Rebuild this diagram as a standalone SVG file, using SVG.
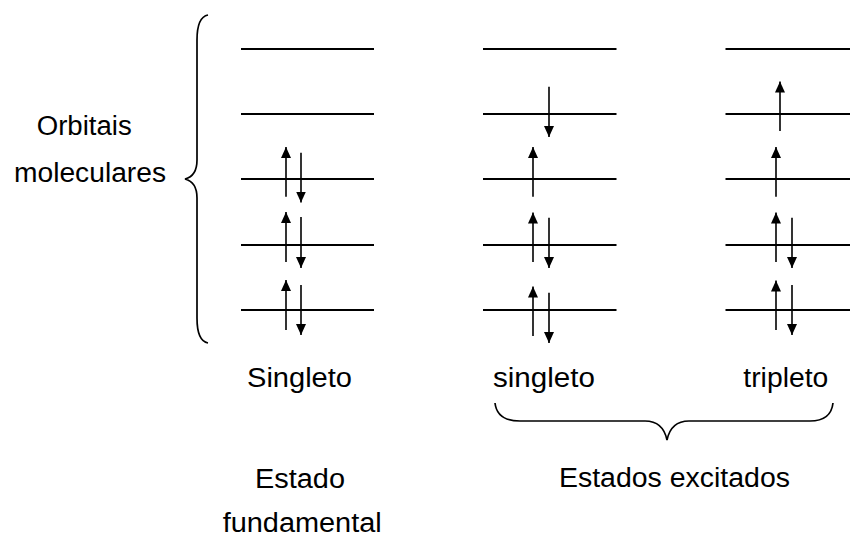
<svg xmlns="http://www.w3.org/2000/svg" width="850" height="538" viewBox="0 0 850 538">
  <style>
    .level { stroke: #000; stroke-width: 2; fill: none; }
    .spin { stroke: #000; stroke-width: 1.6; fill: none; marker-end: url(#head); }
    .brace { stroke: #000; stroke-width: 1.7; fill: none; }
    .label { font-family: "Liberation Sans", Arial, sans-serif; font-size: 27px; fill: #000; }
  </style>
  <defs>
    <marker id="head" viewBox="0 0 11 10" refX="11" refY="5" markerWidth="11" markerHeight="10" markerUnits="userSpaceOnUse" orient="auto">
      <path d="M0,0 L11,5 L0,10 Z" fill="#000"/>
    </marker>
  </defs>
  <rect width="850" height="538" fill="#fff"/>

  <!-- brace grouping the molecular orbitals -->
  <g id="orbitals-brace">
    <path class="brace" d="M208,15 Q197,17 197,40 L197,160 Q197,176 185,179 Q197,182 197,198 L197,318 Q197,341 208,343"/>
    <text class="label" x="36.7" y="135" textLength="95" lengthAdjust="spacingAndGlyphs">Orbitais</text>
    <text class="label" x="14" y="181.7" textLength="152" lengthAdjust="spacingAndGlyphs">moleculares</text>
  </g>

  <!-- ground state: singlet -->
  <g id="ground-singlet">
    <line class="level" x1="241" y1="49" x2="374" y2="49"/>
    <line class="level" x1="241" y1="114" x2="374" y2="114"/>
    <line class="level" x1="241" y1="179" x2="374" y2="179"/>
    <line class="level" x1="241" y1="245" x2="374" y2="245"/>
    <line class="level" x1="241" y1="310" x2="374" y2="310"/>
    <line class="spin" x1="286" y1="196.7" x2="286" y2="147"/>
    <line class="spin" x1="301" y1="152.7" x2="301" y2="202.5"/>
    <line class="spin" x1="286" y1="262" x2="286" y2="212"/>
    <line class="spin" x1="301" y1="217" x2="301" y2="268"/>
    <line class="spin" x1="286" y1="330" x2="286" y2="280"/>
    <line class="spin" x1="301" y1="285" x2="301" y2="335"/>
    <text class="label" x="247" y="387" textLength="105" lengthAdjust="spacingAndGlyphs">Singleto</text>
  </g>

  <!-- excited state: singlet -->
  <g id="excited-singlet">
    <line class="level" x1="483" y1="49" x2="616.5" y2="49"/>
    <line class="level" x1="483" y1="114" x2="616.5" y2="114"/>
    <line class="level" x1="483" y1="179" x2="616.5" y2="179"/>
    <line class="level" x1="483" y1="245" x2="616.5" y2="245"/>
    <line class="level" x1="483" y1="310" x2="616.5" y2="310"/>
    <line class="spin" x1="549" y1="86.7" x2="549" y2="137"/>
    <line class="spin" x1="533" y1="196.7" x2="533" y2="147"/>
    <line class="spin" x1="533" y1="262" x2="533" y2="212.5"/>
    <line class="spin" x1="549" y1="217.7" x2="549" y2="268"/>
    <line class="spin" x1="533" y1="336" x2="533" y2="286.5"/>
    <line class="spin" x1="549" y1="292.7" x2="549" y2="343"/>
    <text class="label" x="493" y="387" textLength="102" lengthAdjust="spacingAndGlyphs">singleto</text>
  </g>

  <!-- excited state: triplet -->
  <g id="excited-triplet">
    <line class="level" x1="725.5" y1="49" x2="858" y2="49"/>
    <line class="level" x1="725.5" y1="114" x2="858" y2="114"/>
    <line class="level" x1="725.5" y1="179" x2="858" y2="179"/>
    <line class="level" x1="725.5" y1="245" x2="858" y2="245"/>
    <line class="level" x1="725.5" y1="310" x2="858" y2="310"/>
    <line class="spin" x1="780" y1="131" x2="780" y2="81.5"/>
    <line class="spin" x1="776" y1="196.7" x2="776" y2="147"/>
    <line class="spin" x1="776" y1="262" x2="776" y2="212.5"/>
    <line class="spin" x1="792" y1="217.7" x2="792" y2="268"/>
    <line class="spin" x1="776" y1="330" x2="776" y2="280.5"/>
    <line class="spin" x1="792" y1="285" x2="792" y2="335"/>
    <text class="label" x="743.3" y="387" textLength="85" lengthAdjust="spacingAndGlyphs">tripleto</text>
  </g>

  <!-- state captions -->
  <g id="ground-caption">
    <text class="label" x="255" y="488" textLength="90" lengthAdjust="spacingAndGlyphs">Estado</text>
    <text class="label" x="222.7" y="532" textLength="159" lengthAdjust="spacingAndGlyphs">fundamental</text>
  </g>

  <g id="excited-brace">
    <path class="brace" d="M495,403 Q497,421 520,421 L645,421 Q663,421 667,440 Q671,421 689,421 L810,421 Q831,421 833,403"/>
    <text class="label" x="559" y="487" textLength="231" lengthAdjust="spacingAndGlyphs">Estados excitados</text>
  </g>
</svg>
